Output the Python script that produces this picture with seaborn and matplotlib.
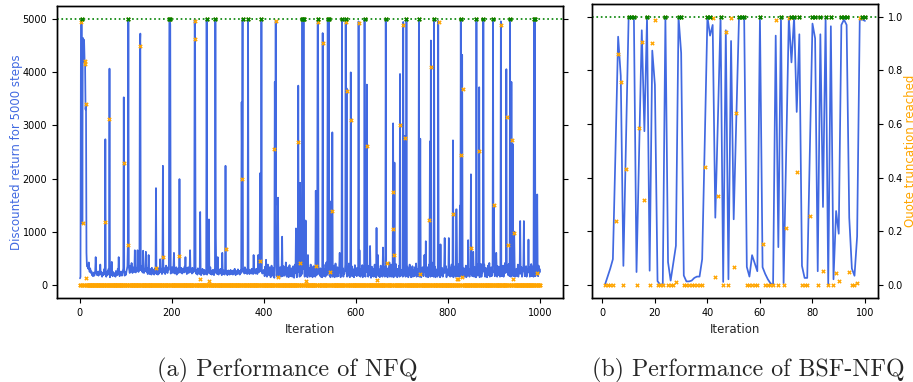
import numpy as np
import pandas as pd
import matplotlib
matplotlib.use("Agg")
import matplotlib.pyplot as plt
import seaborn as sns

# ---------------- NFQ run, 1000 iterations ----------------
# baseline discounted return between the spikes (read off as a noisy band)
nfq_baseline = [
    120, 150, 200, 210, 230, 250, 300, 320, 280, 340, 310, 290, 260, 300, 330, 280, 350, 320, 300, 420, 280, 240, 310, 270, 220,
    250, 180, 210, 160, 190, 230, 170, 200, 260, 520, 300, 210, 180, 240, 200, 170, 220, 260, 190, 380, 210, 240, 180, 150, 200,
    230, 180, 290, 210, 340, 260, 190, 150, 220, 180, 260, 210, 300, 190, 250, 140, 200, 230, 180, 430, 200, 160, 240, 210, 190,
    170, 220, 150, 260, 190, 230, 180, 300, 200, 520, 240, 160, 210, 180, 250, 200, 170, 230, 260, 310, 190, 220, 170, 240, 180,
    200, 260, 300, 350, 240, 210, 330, 280, 220, 360, 300, 250, 410, 290, 220, 330, 260, 300, 240, 650, 280, 230, 310, 260, 340,
    650, 290, 240, 320, 270, 220, 300, 280, 350, 260, 310, 230, 640, 270, 220, 300, 250, 330, 620, 280, 240, 310, 200, 270, 560,
    250, 200, 300, 230, 270, 190, 320, 260, 210, 280, 240, 190, 300, 220, 260, 240, 200, 280, 230, 190, 310, 250, 210, 270, 480,
    240, 300, 260, 200, 340, 270, 400, 230, 310, 260, 200, 290, 360, 240, 280, 220, 330, 270, 300, 260, 230, 280, 210, 300, 250,
    330, 280, 220, 360, 600, 260, 210, 300, 250, 330, 190, 270, 240, 310, 220, 260, 280, 350, 230, 280, 320, 250, 210, 300, 240,
    290, 230, 340, 260, 520, 240, 310, 200, 280, 250, 330, 220, 290, 260, 650, 240, 300, 270, 210, 320, 260, 230, 300, 250, 280,
    240, 330, 210, 280, 260, 190, 310, 250, 220, 290, 200, 330, 240, 180, 270, 230, 300, 210, 250, 190, 280, 230, 200, 260, 220,
    250, 190, 300, 220, 270, 180, 240, 210, 330, 200, 260, 190, 230, 280, 210, 250, 180, 290, 220, 260, 900, 230, 270, 200, 520,
    240, 190, 280, 220, 250, 300, 210, 260, 180, 600, 230, 200, 270, 240, 190, 260, 220, 290, 210, 250, 180, 230, 270, 210, 250,
    190, 240, 280, 220, 200, 260, 230, 190, 270, 250, 210, 300, 230, 180, 260, 220, 250, 200, 290, 240, 210, 260, 190, 230, 270,
    220, 250, 200, 280, 240, 300, 260, 210, 330, 250, 220, 290, 240, 200, 270, 230, 310, 250, 200, 280, 240, 260, 210, 300, 230,
    250, 200, 560, 270, 230, 290, 210, 250, 300, 240, 200, 270, 560, 230, 260, 300, 220, 280, 250, 240, 290, 210, 260, 230, 280,
    250, 160, 340, 240, 470, 260, 150, 290, 380, 270, 180, 200, 330, 240, 140, 220, 360, 250, 170, 270, 310, 260, 130, 290, 240,
    230, 350, 170, 260, 140, 290, 400, 210, 170, 250, 330, 150, 220, 380, 240, 160, 210, 350, 230, 170, 200, 260, 420, 290, 150,
    260, 180, 330, 140, 250, 370, 230, 160, 200, 310, 240, 150, 220, 350, 200, 130, 240, 380, 220, 170, 300, 140, 270, 330, 160,
    240, 340, 150, 260, 390, 170, 270, 200, 130, 290, 360, 190, 220, 150, 250, 420, 230, 170, 270, 140, 560, 260, 180, 310, 150,
    230, 380, 160, 300, 220, 140, 290, 350, 170, 210, 330, 150, 240, 390, 180, 260, 140, 290, 360, 200, 240, 170, 310, 150, 280,
    250, 140, 330, 200, 380, 160, 230, 300, 150, 270, 420, 180, 260, 130, 220, 360, 250, 170, 290, 140, 260, 340, 190, 300, 150,
    270, 170, 360, 140, 240, 400, 190, 250, 150, 330, 220, 160, 280, 350, 600, 250, 140, 230, 380, 170, 220, 310, 150, 260, 200,
    240, 380, 160, 260, 330, 150, 220, 290, 170, 400, 250, 140, 310, 230, 180, 350, 160, 260, 200, 290, 140, 250, 370, 180, 300,
    230, 160, 320, 200, 250, 390, 170, 650, 270, 150, 300, 220, 180, 370, 140, 290, 230, 160, 350, 200, 150, 400, 240, 170, 260,
    270, 150, 220, 360, 180, 730, 260, 130, 280, 340, 160, 220, 300, 150, 290, 380, 170, 240, 140, 310, 210, 400, 560, 160, 230,
    290, 140, 220, 360, 170, 300, 250, 150, 700, 280, 190, 330, 150, 240, 370, 160, 280, 220, 140, 310, 250, 180, 420, 150, 230,
    250, 380, 150, 260, 200, 300, 140, 330, 250, 170, 220, 390, 160, 280, 140, 300, 250, 180, 360, 150, 240, 320, 170, 270, 210,
    280, 150, 260, 340, 190, 220, 370, 150, 290, 230, 160, 340, 200, 140, 300, 250, 380, 170, 260, 140, 310, 220, 350, 150, 270,
    240, 160, 330, 190, 250, 400, 150, 300, 240, 170, 360, 210, 150, 290, 220, 380, 140, 260, 180, 330, 250, 160, 220, 560, 260,
    240, 390, 150, 270, 200, 330, 140, 260, 380, 180, 230, 150, 310, 290, 160, 260, 200, 420, 150, 270, 220, 340, 140, 260, 180,
    290, 150, 330, 250, 380, 170, 260, 140, 760, 230, 170, 320, 290, 150, 260, 210, 400, 160, 270, 230, 350, 140, 260, 190, 290,
    230, 880, 170, 330, 150, 260, 210, 380, 160, 270, 240, 140, 320, 260, 180, 350, 150, 1420, 250, 320, 160, 260, 210, 390, 150,
    270, 190, 360, 150, 260, 220, 400, 170, 240, 310, 150, 280, 200, 360, 140, 250, 330, 170, 840, 220, 260, 150, 290, 200, 370,
    250, 380, 160, 260, 620, 280, 150, 330, 220, 290, 140, 260, 200, 380, 170, 270, 230, 350, 140, 260, 200, 390, 150, 270, 230,
    300, 160, 260, 380, 200, 150, 320, 250, 290, 140, 260, 360, 180, 230, 410, 150, 280, 220, 330, 160, 290, 230, 170, 350, 300,
    220, 160, 300, 240, 600, 270, 150, 350, 220, 180, 340, 290, 150, 270, 250, 380, 160, 260, 200, 360, 150, 270, 230, 410, 220,
    260, 150, 330, 230, 270, 180, 390, 220, 160, 300, 240, 150, 330, 270, 200, 380, 160, 260, 240, 350, 150, 270, 200, 300, 160,
    240, 380, 150, 270, 210, 390, 160, 260, 200, 330, 150, 270, 250, 380, 1200, 260, 160, 290, 230, 350, 150, 300, 220, 260, 850,
    240, 330, 150, 270, 210, 390, 160, 260, 200, 350, 150, 270, 250, 380, 160, 260, 200, 420, 230, 270, 160, 360, 220, 300, 240,
]

# iterations where the return jumps up, and the value reached
nfq_spike_iter = [
    3, 4, 5, 6, 7, 8, 9, 10, 11, 12, 13, 14, 15, 16,
    56, 65, 96, 105, 106, 131, 132, 166, 181, 195, 196, 197, 217, 250, 251, 262,
    276, 281, 295, 317, 352, 353, 354, 366, 392, 395, 424, 425, 426, 431, 440,
    470, 475, 479, 484, 486, 487, 491, 513, 517, 518, 528, 539, 541, 546, 549,
    570, 578, 580, 589, 606, 619, 624, 645, 665, 681, 684, 696, 703, 706, 710,
    737, 740, 752, 761, 763, 770, 779, 793, 811, 819, 826, 828, 831, 850, 862,
    868, 877, 898, 900, 915, 927, 935, 938, 941, 944, 957, 975, 987, 989, 994,
]
nfq_spike_return = [
    4950, 5000, 4700, 1150, 4650, 4200, 4620, 4550, 4200, 4150, 3300, 3400, 600, 350,
    2740, 4070, 3530, 800, 5000, 4480, 4730, 1820, 2240, 5000, 5000, 4900, 1990, 4990, 4620, 1370,
    5000, 1230, 5000, 2240, 3440, 2000, 5000, 5000, 2100, 5000, 3820, 1500, 4970, 1640, 905,
    1060, 3750, 1920, 5000, 5000, 5000, 1210, 1770, 4950, 5000, 4740, 5000, 5000, 1570, 2870,
    5000, 5000, 3700, 4000, 4960, 5000, 3770, 1070, 5000, 3040, 2300, 3970, 4950, 2800, 5000,
    5000, 2750, 820, 2700, 4600, 5000, 4970, 880, 2720, 1420, 1490, 5000, 4330, 2080, 5000,
    3720, 5000, 5000, 1500, 4960, 4060, 5000, 3820, 2650, 1000, 1200, 850, 5000, 5000, 1700,
]

# fraction of truncation reached (zero everywhere else)
nfq_trunc_iter = [
    4, 7, 11, 12, 14, 15, 56, 65, 96, 105, 132, 166, 181, 217, 250, 251, 262, 281,
    317, 352, 392, 423, 426, 431, 475, 479, 491, 513, 517, 528, 541, 544, 549, 579,
    581, 589, 606, 624, 645, 667, 680, 681, 684, 696, 703, 706, 740, 759, 763, 780,
    811, 819, 822, 829, 831, 832, 850, 868, 898, 900, 915, 928, 930, 940, 942, 944, 993,
]
nfq_trunc_value = [
    0.99, 0.234, 0.843, 0.831, 0.026, 0.679, 0.237, 0.623, 0.46, 0.15, 0.9, 0.063, 0.104, 0.11, 0.995, 0.925, 0.02, 0.015,
    0.135, 0.4, 0.09, 0.511, 0.994, 0.03, 0.536, 0.082, 0.013, 0.069, 0.99, 0.912, 0.154, 0.048, 0.279, 0.99,
    0.729, 0.62, 0.987, 0.523, 0.019, 0.082, 0.209, 0.349, 0.111, 0.6, 0.977, 0.554, 0.04, 0.245, 0.822, 0.99,
    0.265, 0.02, 0.02, 0.49, 0.03, 0.736, 0.14, 0.504, 0.1, 0.3, 0.98, 0.633, 0.15, 0.546, 0.02, 0.194, 0.043,
]
# iterations where truncation was reached in full (green markers)
nfq_full_iter = [5, 106, 195, 196, 276, 295, 354, 366, 395, 484, 486, 487, 518, 539, 541,
                 570, 578, 619, 665, 710, 737, 770, 828, 862, 877, 898, 935, 987, 989]

# ---------------- BSF-NFQ run, 100 iterations ----------------
bsf_return = [
    0, 150, 300, 475, 2500, 4630, 3900, 350, 2700, 5000,
    5000, 5000, 235, 2500, 4750, 2865, 5000, 260, 4370, 3730,
    65, 0, 0, 5000, 420, 75, 400, 725, 5000, 4325,
    170, 60, 60, 75, 125, 150, 150, 475, 2700, 5000,
    4650, 4850, 1250, 3100, 5000, 50, 4750, 100, 4550, 1220,
    3100, 4950, 5000, 4950, 330, 150, 550, 400, 250, 5000,
    325, 200, 100, 25, 0, 4650, 700, 5000, 25, 2500,
    5000, 4150, 5000, 3225, 4675, 350, 125, 125, 2500, 4875,
    4600, 250, 4675, 1450, 5000, 0, 4825, 100, 1375, 950,
    4850, 4950, 4850, 1250, 300, 165, 900, 4950, 4950, 4925,
]
bsf_truncation = [
    0, 0, 0, 0, 0.238, 0.86, 0.755, 0, 0.43, 1,
    1, 1, 0, 0.585, 0.906, 0.315, 1, 0, 0.903, 0.988,
    0, 0, 0, 1, 0, 0, 0, 0.01, 1, 1,
    0, 0, 0, 0, 0, 0, 0, 0, 0.44, 1,
    1, 0.997, 0.03, 0.33, 1, 0, 0.945, 0, 0.997, 0.067,
    0.64, 1, 1, 1, 0, 0, 0, 0, 0, 1,
    0.15, 0, 0, 0, 0, 0.99, 0, 1, 0, 0.21,
    0.996, 1, 1, 0.42, 1, 0, 0, 0, 0.255, 1,
    1, 0, 1, 0.05, 1, 0, 1, 0, 0.045, 0.012,
    1, 1, 1, 0.048, 0, 0, 0.005, 0.994, 1, 1,
]

return_ticks = [0, 1000, 2000, 3000, 4000, 5000]
trunc_ticks = [0.0, 0.2, 0.4, 0.6, 0.8, 1.0]
nfq_xticks = [0, 200, 400, 600, 800, 1000]
bsf_xticks = [0, 20, 40, 60, 80, 100]

BLUE = "royalblue"
ORANGE = "orange"
GREEN = "green"

sns.set_theme(style="ticks")
plt.rcParams["font.family"] = ["DejaVu Sans"]
plt.rcParams["axes.edgecolor"] = "black"
plt.rcParams["xtick.color"] = "black"
plt.rcParams["ytick.color"] = "black"


def build_frame(n, returns, trunc):
    return pd.DataFrame({"iteration": np.arange(1, n + 1),
                         "ret": returns, "trunc": trunc})


nfq_ret = list(nfq_baseline)
for it, v in zip(nfq_spike_iter, nfq_spike_return):
    nfq_ret[it - 1] = v
nfq_tr = [0.0] * 1000
for it, v in zip(nfq_trunc_iter, nfq_trunc_value):
    nfq_tr[it - 1] = v
for it in nfq_full_iter:
    nfq_tr[it - 1] = 1.0
    nfq_ret[it - 1] = 5000

nfq = build_frame(1000, nfq_ret, nfq_tr)
bsf = build_frame(100, bsf_return, bsf_truncation)


def draw_panel(ax, df, xticks, xlim):
    sns.lineplot(data=df, x="iteration", y="ret", ax=ax, color=BLUE,
                 lw=1.25, errorbar=None)
    ax.set_ylim(-250, 5250)
    ax.set_yticks(return_ticks)
    ax.set_xlim(*xlim)
    ax.set_xticks(xticks)
    ax.set_xlabel("Iteration", fontsize=8.5)
    ax.tick_params(labelsize=7, length=3.5, width=0.8)

    axt = ax.twinx()
    sns.scatterplot(data=df, x="iteration", y="trunc", ax=axt, color=ORANGE,
                    marker="X", s=10, linewidth=0, zorder=3)
    full = df[df["trunc"] >= 1.0]
    sns.scatterplot(data=full, x="iteration", y="trunc", ax=axt, color=GREEN,
                    marker="X", s=12, linewidth=0, zorder=4)
    axt.axhline(1.0, color=GREEN, ls=":", lw=1.2, zorder=2)
    axt.set_ylim(-0.05, 1.05)
    axt.set_yticks(trunc_ticks)
    axt.set_xlim(*xlim)
    axt.set_xlabel("")
    axt.set_ylabel("")
    axt.tick_params(labelsize=7, length=3.5, width=0.8)
    for a in (ax, axt):
        for s in a.spines.values():
            s.set_linewidth(1.0)
    return axt


fig = plt.figure(figsize=(9.13, 3.82), dpi=100)
W, H = 913, 382
ax1 = fig.add_axes([57 / W, 1 - 298 / H, (563 - 57) / W, (298 - 6) / H])
ax2 = fig.add_axes([592 / W, 1 - 298 / H, (878 - 592) / W, (298 - 3.5) / H])

t1 = draw_panel(ax1, nfq, nfq_xticks, (-49, 1050))
ax1.set_ylabel("Discounted return for 5000 steps", color=BLUE, fontsize=8.5,
               labelpad=0)
t1.tick_params(labelright=False)

t2 = draw_panel(ax2, bsf, bsf_xticks, (-3.95, 104.95))
ax2.set_ylabel("")
ax2.tick_params(labelleft=False)
t2.set_ylabel("Quote truncation reached", color=ORANGE, fontsize=8.5,
              labelpad=0)

fig.text(287 / W, 1 - 376 / H, "(a) Performance of NFQ", family="cmr10",
         fontsize=17.5, ha="center", va="baseline")
fig.text(748 / W, 1 - 376 / H, "(b) Performance of BSF-NFQ", family="cmr10",
         fontsize=17.2, ha="center", va="baseline")

fig.savefig("out.png", dpi=100)
